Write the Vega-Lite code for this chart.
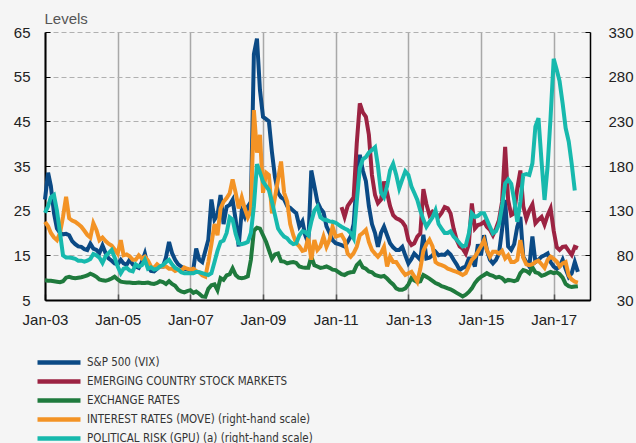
{
"$schema":"https://vega.github.io/schema/vega-lite/v6.json",
"width":545,"height":268,
"autosize":{"type":"none"},
"padding":{"left":45,"top":32,"right":46,"bottom":143},
"background":"#f5f5f5",
"config":{"view":{"stroke":null},"font":"Liberation Sans"},
"data":{"values":[
{"d":"2003-01-01","vix":27.5,"fx":9.4,"move":117.5,"gpr":127.5},
{"d":"2003-02-01","vix":33.5,"fx":9.3,"move":112.5,"gpr":135},
{"d":"2003-03-01","vix":30.5,"fx":9.3,"move":105,"gpr":145},
{"d":"2003-04-01","vix":24.5,"fx":9.2,"move":100,"gpr":147.5},
{"d":"2003-05-01","vix":21,"fx":9.1,"move":97,"gpr":130},
{"d":"2003-06-01","vix":20,"fx":9,"move":105,"gpr":105},
{"d":"2003-07-01","vix":19.7,"fx":9.2,"move":123,"gpr":80},
{"d":"2003-08-01","vix":19.8,"fx":10,"move":145.5,"gpr":77.5},
{"d":"2003-09-01","vix":19.5,"fx":10.2,"move":121.5,"gpr":77.5},
{"d":"2003-10-01","vix":18.2,"fx":10,"move":119,"gpr":77},
{"d":"2003-11-01","vix":17.5,"fx":9.9,"move":117.5,"gpr":76},
{"d":"2003-12-01","vix":17,"fx":10,"move":115,"gpr":74},
{"d":"2004-01-01","vix":16.9,"fx":10.1,"move":112,"gpr":74},
{"d":"2004-02-01","vix":16.4,"fx":10.3,"move":107.5,"gpr":73},
{"d":"2004-03-01","vix":16.2,"fx":10.5,"move":103,"gpr":74},
{"d":"2004-04-01","vix":17.6,"fx":10.9,"move":100,"gpr":76},
{"d":"2004-05-01","vix":16.5,"fx":10.6,"move":116,"gpr":81.5},
{"d":"2004-06-01","vix":16.2,"fx":10.2,"move":108.5,"gpr":80},
{"d":"2004-07-01","vix":15.5,"fx":9.6,"move":97,"gpr":77.5},
{"d":"2004-08-01","vix":17.2,"fx":9.4,"move":100,"gpr":71.5},
{"d":"2004-09-01","vix":15.5,"fx":9.3,"move":96,"gpr":79},
{"d":"2004-10-01","vix":14.3,"fx":9.5,"move":93,"gpr":82.5},
{"d":"2004-11-01","vix":13.8,"fx":9.8,"move":91,"gpr":86},
{"d":"2004-12-01","vix":13.2,"fx":10.2,"move":86.5,"gpr":77.5},
{"d":"2005-01-01","vix":13,"fx":9.6,"move":82,"gpr":67.5},
{"d":"2005-02-01","vix":14,"fx":9.1,"move":97,"gpr":60},
{"d":"2005-03-01","vix":13.2,"fx":9,"move":80,"gpr":65},
{"d":"2005-04-01","vix":12.9,"fx":8.9,"move":81,"gpr":66},
{"d":"2005-05-01","vix":14,"fx":8.9,"move":79,"gpr":63},
{"d":"2005-06-01","vix":13,"fx":8.8,"move":75,"gpr":62},
{"d":"2005-07-01","vix":12.5,"fx":8.8,"move":75,"gpr":70},
{"d":"2005-08-01","vix":12.2,"fx":8.9,"move":80,"gpr":67.5},
{"d":"2005-09-01","vix":13.5,"fx":8.8,"move":76.5,"gpr":69},
{"d":"2005-10-01","vix":15.4,"fx":8.8,"move":78.5,"gpr":75},
{"d":"2005-11-01","vix":12.5,"fx":8.9,"move":74,"gpr":65},
{"d":"2005-12-01","vix":11.5,"fx":8.7,"move":67.5,"gpr":66.5},
{"d":"2006-01-01","vix":11.4,"fx":8.6,"move":66,"gpr":64},
{"d":"2006-02-01","vix":12,"fx":8.8,"move":70,"gpr":65},
{"d":"2006-03-01","vix":12.5,"fx":9.2,"move":67.5,"gpr":67.5},
{"d":"2006-04-01","vix":12.5,"fx":9,"move":67.5,"gpr":69},
{"d":"2006-05-01","vix":14.5,"fx":8.6,"move":67.5,"gpr":72.5},
{"d":"2006-06-01","vix":18,"fx":9.2,"move":65,"gpr":75},
{"d":"2006-07-01","vix":15.5,"fx":8.6,"move":65,"gpr":70},
{"d":"2006-08-01","vix":14,"fx":8.2,"move":62.5,"gpr":66},
{"d":"2006-09-01","vix":13,"fx":7.3,"move":64,"gpr":64},
{"d":"2006-10-01","vix":12.5,"fx":6.9,"move":62.5,"gpr":61},
{"d":"2006-11-01","vix":12,"fx":6.7,"move":66.5,"gpr":60},
{"d":"2006-12-01","vix":11.9,"fx":7,"move":65,"gpr":60},
{"d":"2007-01-01","vix":11.5,"fx":7.2,"move":64,"gpr":60},
{"d":"2007-02-01","vix":12,"fx":6.6,"move":65,"gpr":60},
{"d":"2007-03-01","vix":16.5,"fx":6.9,"move":62.5,"gpr":61.5},
{"d":"2007-04-01","vix":14,"fx":6.4,"move":61,"gpr":61},
{"d":"2007-05-01","vix":13.5,"fx":5.8,"move":57.5,"gpr":60},
{"d":"2007-06-01","vix":16,"fx":5.7,"move":56,"gpr":59},
{"d":"2007-07-01","vix":18.5,"fx":7.5,"move":72.5,"gpr":58},
{"d":"2007-08-01","vix":27.5,"fx":8.3,"move":92.5,"gpr":60},
{"d":"2007-09-01","vix":23,"fx":8.5,"move":115,"gpr":72.5},
{"d":"2007-10-01","vix":24,"fx":7.2,"move":102.5,"gpr":85},
{"d":"2007-11-01","vix":28.5,"fx":9.9,"move":132.5,"gpr":95},
{"d":"2007-12-01","vix":22,"fx":9.5,"move":140,"gpr":96.5},
{"d":"2008-01-01","vix":25.9,"fx":10.5,"move":144,"gpr":105},
{"d":"2008-02-01","vix":26.3,"fx":10.8,"move":149.5,"gpr":122.5},
{"d":"2008-03-01","vix":27.4,"fx":12.1,"move":165,"gpr":120},
{"d":"2008-04-01","vix":22.9,"fx":10.6,"move":150,"gpr":104},
{"d":"2008-05-01","vix":17,"fx":10,"move":132.5,"gpr":93.5},
{"d":"2008-06-01","vix":25,"fx":9.9,"move":145,"gpr":92.5},
{"d":"2008-07-01","vix":23.6,"fx":10,"move":132.5,"gpr":93.5},
{"d":"2008-08-01","vix":25.9,"fx":10.3,"move":122.5,"gpr":95},
{"d":"2008-09-01","vix":27,"fx":14,"move":130,"gpr":105},
{"d":"2008-10-01","vix":60,"fx":20.5,"move":242.5,"gpr":135},
{"d":"2008-11-01","vix":63.5,"fx":21.2,"move":195,"gpr":182},
{"d":"2008-12-01","vix":52,"fx":21,"move":215,"gpr":172.5},
{"d":"2009-01-01","vix":46,"fx":19.5,"move":150,"gpr":162.5},
{"d":"2009-02-01","vix":45.5,"fx":18,"move":172.5,"gpr":157.5},
{"d":"2009-03-01","vix":45,"fx":16.2,"move":170,"gpr":153},
{"d":"2009-04-01","vix":38,"fx":14.2,"move":127,"gpr":140},
{"d":"2009-05-01","vix":32.5,"fx":15.2,"move":145,"gpr":125},
{"d":"2009-06-01","vix":29,"fx":15.4,"move":165,"gpr":110},
{"d":"2009-07-01","vix":28,"fx":13.7,"move":185,"gpr":105},
{"d":"2009-08-01","vix":27.5,"fx":13.6,"move":150,"gpr":101},
{"d":"2009-09-01","vix":26,"fx":13.2,"move":140,"gpr":99},
{"d":"2009-10-01","vix":25.6,"fx":13.4,"move":115,"gpr":95},
{"d":"2009-11-01","vix":25,"fx":13.5,"move":102.5,"gpr":92.5},
{"d":"2009-12-01","vix":24.4,"fx":13.3,"move":93.5,"gpr":93.5},
{"d":"2010-01-01","vix":21.5,"fx":12.5,"move":90,"gpr":102.5},
{"d":"2010-02-01","vix":22.6,"fx":12.3,"move":85,"gpr":107},
{"d":"2010-03-01","vix":19.5,"fx":12.2,"move":86,"gpr":106},
{"d":"2010-04-01","vix":17.7,"fx":12.2,"move":100,"gpr":102.5},
{"d":"2010-05-01","vix":34,"fx":14.7,"move":75,"gpr":117.5},
{"d":"2010-06-01","vix":30.5,"fx":12.8,"move":97,"gpr":130},
{"d":"2010-07-01","vix":27,"fx":12.5,"move":86,"gpr":134.5},
{"d":"2010-08-01","vix":25.5,"fx":12.2,"move":90,"gpr":122.5},
{"d":"2010-09-01","vix":24.6,"fx":12.3,"move":101,"gpr":120},
{"d":"2010-10-01","vix":21.5,"fx":12.5,"move":89.5,"gpr":119.5},
{"d":"2010-11-01","vix":20,"fx":12.2,"move":97.5,"gpr":118},
{"d":"2010-12-01","vix":18.4,"fx":11.8,"move":112,"gpr":117.5},
{"d":"2011-01-01","vix":17.7,"fx":11.7,"move":101,"gpr":116.5},
{"d":"2011-02-01","vix":17.5,"fx":11.2,"move":102,"gpr":114},
{"d":"2011-03-01","vix":17.3,"em":25.8,"fx":10.8,"move":103,"gpr":112},
{"d":"2011-04-01","vix":17,"em":23.6,"fx":10.6,"move":97,"gpr":110},
{"d":"2011-05-01","vix":18,"em":26,"fx":11,"move":82,"gpr":108.5},
{"d":"2011-06-01","vix":19.2,"em":27,"fx":11.2,"move":78.5,"gpr":105},
{"d":"2011-07-01","vix":22,"em":28,"fx":11.3,"move":82.5,"gpr":99},
{"d":"2011-08-01","vix":32,"em":40,"fx":12.8,"move":89.5,"gpr":140},
{"d":"2011-09-01","vix":37.5,"em":49,"fx":13.5,"move":102.5,"gpr":177.5},
{"d":"2011-10-01","vix":34,"em":47,"fx":12.3,"move":105,"gpr":187.5},
{"d":"2011-11-01","vix":31.6,"em":46,"fx":12,"move":108.5,"gpr":190},
{"d":"2011-12-01","vix":26,"em":42,"fx":11.4,"move":95,"gpr":195},
{"d":"2012-01-01","vix":22,"em":33,"fx":11.2,"move":86,"gpr":198},
{"d":"2012-02-01","vix":20,"em":28.5,"fx":10.6,"move":82,"gpr":201},
{"d":"2012-03-01","vix":16.9,"em":26.7,"fx":10.4,"move":78.5,"gpr":180},
{"d":"2012-04-01","vix":20,"em":27.5,"fx":10.2,"move":82.5,"gpr":150},
{"d":"2012-05-01","vix":21.4,"em":31.5,"fx":10.4,"move":89.5,"gpr":145},
{"d":"2012-06-01","vix":19.5,"em":29,"fx":9.8,"move":67.5,"gpr":157.5},
{"d":"2012-07-01","vix":17.7,"em":26,"fx":9.1,"move":78.5,"gpr":175},
{"d":"2012-08-01","vix":16.8,"em":24,"fx":8.5,"move":72.5,"gpr":182.5},
{"d":"2012-09-01","vix":16.2,"em":23.3,"fx":7.6,"move":72.5,"gpr":170},
{"d":"2012-10-01","vix":16.2,"em":23,"fx":7.3,"move":67.5,"gpr":155},
{"d":"2012-11-01","vix":16.9,"em":22.5,"fx":7.3,"move":62.5,"gpr":165},
{"d":"2012-12-01","vix":15,"em":21.5,"fx":7.6,"move":58,"gpr":174},
{"d":"2013-01-01","vix":13.2,"em":18.4,"fx":8.5,"move":60,"gpr":170},
{"d":"2013-02-01","vix":14.2,"em":17.3,"fx":9.9,"move":61.5,"gpr":157},
{"d":"2013-03-01","vix":15.4,"em":17.7,"fx":9.4,"move":56.5,"gpr":150},
{"d":"2013-04-01","vix":14.7,"em":19.2,"fx":9,"move":50.5,"gpr":142},
{"d":"2013-05-01","vix":14,"em":19.9,"fx":9.2,"move":65,"gpr":130},
{"d":"2013-06-01","vix":19.6,"em":29.8,"fx":10.6,"move":85,"gpr":120},
{"d":"2013-07-01","vix":14.3,"em":26.5,"fx":10.2,"move":92.5,"gpr":112},
{"d":"2013-08-01","vix":14.5,"em":24,"fx":9.8,"move":97.5,"gpr":117.5},
{"d":"2013-09-01","vix":15,"em":24.8,"fx":9.3,"move":90,"gpr":122.5},
{"d":"2013-10-01","vix":15.8,"em":24.4,"fx":8.8,"move":72.5,"gpr":130.5},
{"d":"2013-11-01","vix":15,"em":23.6,"fx":8.5,"move":70,"gpr":115},
{"d":"2013-12-01","vix":15.2,"em":24.5,"fx":8.1,"move":69,"gpr":110},
{"d":"2014-01-01","vix":15.1,"em":25.8,"fx":7.9,"move":67.5,"gpr":105},
{"d":"2014-02-01","vix":15.8,"em":25.5,"fx":7.6,"move":65,"gpr":105},
{"d":"2014-03-01","vix":15.2,"em":24.4,"fx":7.4,"move":64,"gpr":107},
{"d":"2014-04-01","vix":14,"em":21,"fx":7,"move":62.5,"gpr":101},
{"d":"2014-05-01","vix":13,"em":18.5,"fx":6.6,"move":61.5,"gpr":97.5},
{"d":"2014-06-01","vix":11.7,"em":17,"fx":6.2,"move":60,"gpr":93.5},
{"d":"2014-07-01","vix":12.2,"em":16.5,"fx":5.8,"move":58,"gpr":90},
{"d":"2014-08-01","vix":12.5,"em":15.4,"fx":6.2,"move":60,"gpr":91},
{"d":"2014-09-01","vix":14.3,"em":17.5,"fx":6.8,"move":67.5,"gpr":104.5},
{"d":"2014-10-01","vix":14.3,"em":26.6,"fx":7.6,"move":75,"gpr":127},
{"d":"2014-11-01","vix":12.5,"em":21,"fx":8.8,"move":78.5,"gpr":123},
{"d":"2014-12-01","vix":17.5,"em":21.8,"fx":9.6,"move":84,"gpr":124},
{"d":"2015-01-01","vix":15,"em":22,"fx":10.2,"move":90,"gpr":127},
{"d":"2015-02-01","vix":19.5,"em":22.5,"fx":10.6,"move":97,"gpr":127},
{"d":"2015-03-01","vix":16.2,"em":21.4,"fx":11,"move":86,"gpr":120},
{"d":"2015-04-01","vix":14,"em":20.7,"fx":10.6,"move":78.5,"gpr":112},
{"d":"2015-05-01","vix":13.2,"em":19.5,"fx":10.4,"move":84,"gpr":104.5},
{"d":"2015-06-01","vix":14,"em":21,"fx":10,"move":84,"gpr":107},
{"d":"2015-07-01","vix":15.4,"em":22.9,"fx":10.2,"move":82,"gpr":115},
{"d":"2015-08-01","vix":20.7,"em":27,"fx":9.9,"move":85,"gpr":135},
{"d":"2015-09-01","vix":27.4,"em":39.3,"fx":9.2,"move":76.5,"gpr":160.5},
{"d":"2015-10-01","vix":17,"em":27.4,"fx":9.5,"move":80,"gpr":165},
{"d":"2015-11-01","vix":16.2,"em":24,"fx":9.4,"move":72.5,"gpr":160},
{"d":"2015-12-01","vix":17.5,"em":24.4,"fx":9.2,"move":72.5,"gpr":142},
{"d":"2016-01-01","vix":21.4,"em":30,"fx":9.5,"move":75,"gpr":117.5},
{"d":"2016-02-01","vix":23.6,"em":34,"fx":11,"move":97,"gpr":140},
{"d":"2016-03-01","vix":14.7,"em":26,"fx":11.7,"move":77.5,"gpr":170},
{"d":"2016-04-01","vix":13.5,"em":23.2,"fx":11.5,"move":70,"gpr":171},
{"d":"2016-05-01","vix":12.5,"em":25.1,"fx":11,"move":69,"gpr":170},
{"d":"2016-06-01","vix":19.2,"em":26.4,"fx":12.3,"move":70,"gpr":183},
{"d":"2016-07-01","vix":13.5,"em":22.2,"fx":11.2,"move":72.5,"gpr":224},
{"d":"2016-08-01","vix":14,"em":23,"fx":11,"move":74,"gpr":233.5},
{"d":"2016-09-01","vix":14.7,"em":23.6,"fx":10.4,"move":70,"gpr":185},
{"d":"2016-10-01","vix":15,"em":21.9,"fx":10.6,"move":66,"gpr":142},
{"d":"2016-11-01","vix":15.4,"em":24,"fx":11,"move":75,"gpr":180},
{"d":"2016-12-01","vix":13.5,"em":25.5,"fx":11.3,"move":78.5,"gpr":235},
{"d":"2017-01-01","vix":12.5,"em":20.5,"fx":11,"move":76,"gpr":300},
{"d":"2017-02-01","vix":12,"em":16.8,"fx":11.2,"move":73,"gpr":287.5},
{"d":"2017-03-01","vix":12.5,"em":16.2,"fx":10.8,"move":67.5,"gpr":275},
{"d":"2017-04-01","vix":14,"em":16.9,"fx":10,"move":71,"gpr":250},
{"d":"2017-05-01","vix":12,"em":17,"fx":8.6,"move":72.5,"gpr":222.5},
{"d":"2017-06-01","vix":10.2,"em":16,"fx":8.1,"move":57.5,"gpr":207.5},
{"d":"2017-07-01","vix":11,"em":15.1,"fx":7.9,"move":53,"gpr":182.5},
{"d":"2017-08-01","vix":13.5,"em":16.9,"fx":8,"move":50.5,"gpr":152.5},
{"d":"2017-09-01","vix":11.3,"em":16.6,"fx":8.1,"move":49.5}
]},
"transform":[
{"fold":["vix","em","fx","move","gpr"],"as":["k","v"]},
{"filter":"isValid(datum.v)"}
],
"encoding":{
"x":{"field":"d","type":"temporal","title":null,
"scale":{"type":"utc","domain":[{"year":2003,"month":1,"date":1,"utc":true},{"year":2018,"month":1,"date":1,"utc":true}]},
"axis":{"values":[{"year":2003,"month":1,"date":1,"utc":true},{"year":2005,"month":1,"date":1,"utc":true},{"year":2007,"month":1,"date":1,"utc":true},{"year":2009,"month":1,"date":1,"utc":true},{"year":2011,"month":1,"date":1,"utc":true},{"year":2013,"month":1,"date":1,"utc":true},{"year":2015,"month":1,"date":1,"utc":true},{"year":2017,"month":1,"date":1,"utc":true}],
"labelExpr":"utcFormat(datum.value, '%b-%y')","labelFlush":false,"labelOverlap":false,
"grid":true,"gridColor":"#a8a8a8","gridWidth":1.5,
"domainColor":"#000000","domainWidth":2,"tickColor":"#555555","tickWidth":1.5,"tickSize":-6,
"labelPadding":18,"labelFontSize":15,"labelColor":"#222222","labelFont":"Liberation Sans"}}
},
"layer":[
{"transform":[{"filter":{"field":"k","oneOf":["vix","em","fx"]}}],
"mark":{"type":"line","strokeWidth":4},
"encoding":{
"y":{"field":"v","type":"quantitative","scale":{"domain":[5,65],"nice":false,"zero":false},
"axis":{"values":[5,15,25,35,45,55,65],"title":"Levels","titleAngle":0,"titleAlign":"left","titleBaseline":"alphabetic","titleX":-1,"titleY":-9,"titleFontSize":15,"titleFontWeight":"normal","titleColor":"#555555","titleFont":"Liberation Sans",
"grid":true,"gridColor":"#b0b0b0","gridDash":[5,3],"gridWidth":1,
"domainColor":"#000000","domainWidth":2,"tickColor":"#000000","tickSize":-5,"tickWidth":1,
"labelPadding":20,"labelFontSize":15,"labelColor":"#222222","labelFont":"Liberation Sans"}},
"color":{"field":"k","type":"nominal",
"scale":{"domain":["vix","em","fx","move","gpr"],"range":["#0b4a85","#9c2342","#1f7a3d","#f39325","#17b9ad"]},
"legend":{"orient":"none","legendX":4.5,"legendY":321,"direction":"vertical","title":null,"symbolType":"M-3.07,0H3.07","symbolSize":196,"symbolStrokeWidth":4.5,"labelOffset":18.5,"labelFont":"DejaVu Sans Condensed, Liberation Sans","labelFontSize":11.5,"labelColor":"#333333","rowPadding":0,"padding":0,"labelLimit":400,
"labelExpr":"datum.label == 'vix' ? 'S&P 500 (VIX)' : datum.label == 'em' ? 'EMERGING COUNTRY STOCK MARKETS' : datum.label == 'fx' ? 'EXCHANGE RATES' : datum.label == 'move' ? 'INTEREST RATES (MOVE) (right-hand scale)' : 'POLITICAL RISK (GPU) (a) (right-hand scale)'"}}
}},
{"transform":[{"filter":{"field":"k","oneOf":["move","gpr"]}}],
"mark":{"type":"line","strokeWidth":4},
"encoding":{
"y":{"field":"v","type":"quantitative","scale":{"domain":[30,330],"nice":false,"zero":false},
"axis":{"orient":"right","values":[30,80,130,180,230,280,330],"title":null,"grid":false,
"domainColor":"#000000","domainWidth":1.5,"tickColor":"#000000","tickSize":-5,"tickWidth":1,
"labelAlign":"right","labelPadding":48,"labelFontSize":15,"labelColor":"#222222","labelFont":"Liberation Sans"}},
"color":{"field":"k","type":"nominal",
"scale":{"domain":["vix","em","fx","move","gpr"],"range":["#0b4a85","#9c2342","#1f7a3d","#f39325","#17b9ad"]},
"legend":{"orient":"none","legendX":4.5,"legendY":321,"direction":"vertical","title":null,"symbolType":"M-3.07,0H3.07","symbolSize":196,"symbolStrokeWidth":4.5,"labelOffset":18.5,"labelFont":"DejaVu Sans Condensed, Liberation Sans","labelFontSize":11.5,"labelColor":"#333333","rowPadding":0,"padding":0,"labelLimit":400,
"labelExpr":"datum.label == 'vix' ? 'S&P 500 (VIX)' : datum.label == 'em' ? 'EMERGING COUNTRY STOCK MARKETS' : datum.label == 'fx' ? 'EXCHANGE RATES' : datum.label == 'move' ? 'INTEREST RATES (MOVE) (right-hand scale)' : 'POLITICAL RISK (GPU) (a) (right-hand scale)'"}}
}}
],
"resolve":{"scale":{"y":"independent"}}
}
